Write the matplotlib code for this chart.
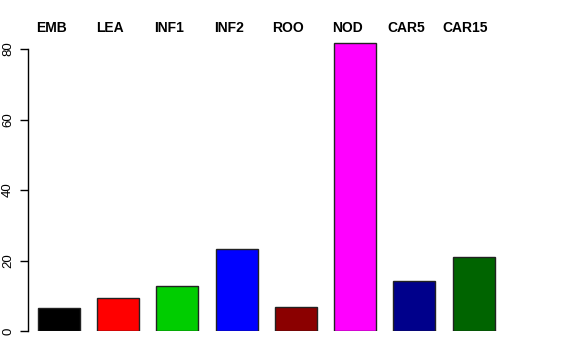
import matplotlib
matplotlib.use('Agg')
import matplotlib.pyplot as plt
import numpy as np

# 数据
labels = ['EMB', 'LEA', 'INF1', 'INF2', 'ROO', 'NOD', 'CAR5', 'CAR15']
values = [6.5, 9.4, 12.8, 23.3, 6.8, 81.7, 14.2, 21.0]
colors = ['#000000', '#FF0000', '#00CD00', '#0000FF', '#8B0000', '#FF00FF', '#00008B', '#006400']

plt.rcParams['font.family'] = ['Liberation Sans', 'DejaVu Sans']

fig = plt.figure(figsize=(5.76, 3.6), dpi=100)
ax = fig.add_axes([28 / 576, 29 / 360, (560 - 28) / 576, (331 - 31.4) / 360])

x = np.arange(len(labels))
ax.bar(x, values, width=0.71, color=colors, edgecolor='#222222', linewidth=1)

ax.set_xlim(-0.524, 8.46)
ax.set_ylim(0, 85)

for s in ['top', 'right', 'bottom']:
    ax.spines[s].set_visible(False)
ax.spines['left'].set_bounds(0, 80)
ax.spines['left'].set_linewidth(1)

ax.set_xticks([])
ax.set_yticks([0, 20, 40, 60, 80])
ax.set_yticklabels(['0', '20', '40', '60', '80'], rotation=90, va='center', fontsize=9.5)
ax.tick_params(axis='y', length=6, width=1, pad=4)

# 顶部标签，略向左偏
for xi, lab in zip(x, labels):
    ax.text(xi - 0.135, 86, lab, ha='center', va='center', fontweight='bold', fontsize=10, clip_on=False)

plt.savefig('out.png', dpi=100)
